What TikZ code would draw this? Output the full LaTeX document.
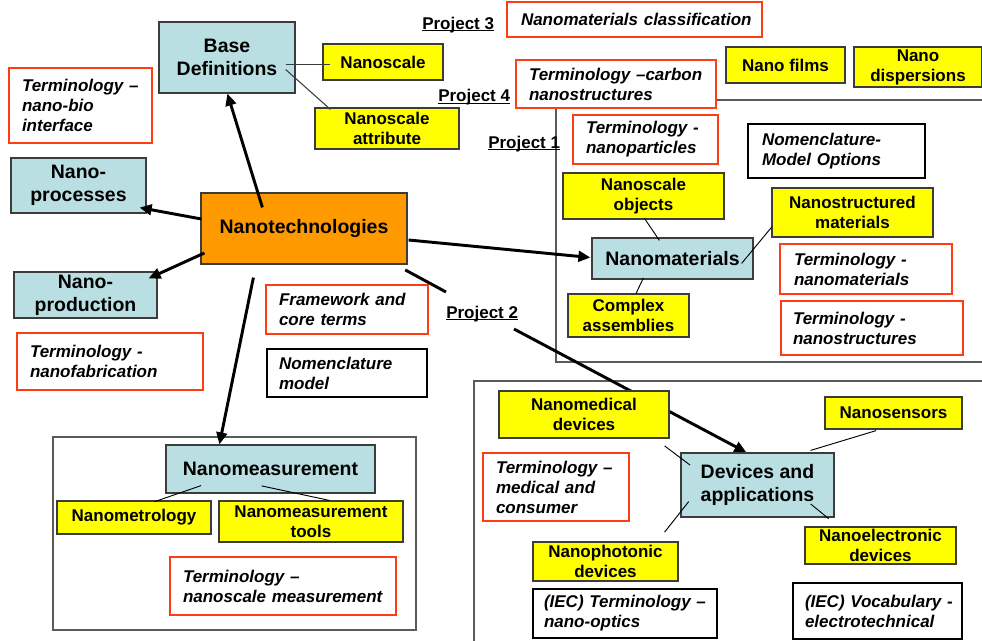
\documentclass[tikz,border=0pt]{standalone}
\usepackage{fontspec}
\setmainfont{Liberation Sans}
\usetikzlibrary{arrows.meta,calc}
\pgfdeclarelayer{bg}
\pgfsetlayers{bg,main}
\hyphenpenalty=10000
\exhyphenpenalty=10000
\hbadness=10000
\hfuzz=100pt
\definecolor{lblue}{RGB}{186,223,227}
\definecolor{ylw}{RGB}{255,255,0}
\definecolor{orng}{RGB}{255,153,0}
\definecolor{redb}{RGB}{255,60,20}
\definecolor{bord}{RGB}{60,60,60}
\definecolor{contc}{RGB}{90,90,90}
\newcommand\bx[7]{%
  \pgfmathsetlengthmacro\bxw{(#5-#3)*0.75pt}%
  \pgfmathsetlengthmacro\bxh{(#6-#4)*0.75pt}%
  \node[#1, minimum width=\bxw, minimum height=\bxh] (#2) at ({(#3+#5)/2},{(#4+#6)/2}) {#7};}
\newcommand\lbx[8]{%
  \pgfmathsetlengthmacro\bxw{(#5-#3)*0.75pt}%
  \pgfmathsetlengthmacro\bxh{(#6-#4)*0.75pt}%
  \pgfmathsetlengthmacro\bxt{(#5-#3-2*#8)*0.75pt}%
  \node[#1, text width=\bxt, minimum width=\bxw, minimum height=\bxh] (#2) at ({(#3+#5)/2},{(#4+#6)/2}) {#7};}
\newcommand\ulab[1]{\setbox0\hbox{#1}\rlap{\rule[-1.8pt]{\wd0}{1pt}}\box0}
\tikzset{
  basebox/.style={draw=bord, line width=0.9pt, inner sep=0pt, align=center,
    font=\fontsize{12.75}{15}\selectfont\bfseries},
  ybox/.style={basebox, fill=ylw},
  bbox/.style={basebox, fill=lblue, font=\fontsize{14.6}{17.5}\selectfont\bfseries},
  obox/.style={bbox, fill=orng},
  rbox/.style={draw=redb, line width=1.6pt, fill=white, inner sep=0pt, align=left,
    font=\fontsize{12.75}{15}\selectfont\bfseries\itshape},
  kbox/.style={rbox, draw=black, line width=0.8pt},
  kkbox/.style={rbox, draw=black, line width=1.8pt},
  proj/.style={inner sep=0pt, font=\fontsize{12.75}{15}\selectfont\bfseries},
  arr/.style={line width=2.2pt, -{Triangle[length=9pt,width=8pt]}},
  thk/.style={line width=2.2pt},
  conn/.style={line width=0.7pt, draw=black},
  conng/.style={line width=0.8pt, draw=bord},
  contbox/.style={draw=contc, line width=1.1pt}
}
\begin{document}
\begin{tikzpicture}[x=0.75pt, y=-0.75pt]
\useasboundingbox (0,0) rectangle (982,640);

% containers
\begin{pgfonlayer}{bg}
\draw[contbox] (556,100) rectangle (995,362);
\draw[contbox] (474,381) rectangle (995,655);
\draw[contbox] (53,437) rectangle (416,630);
\end{pgfonlayer}

% nodes
\bx{bbox}{basedef}{159}{22}{295}{93}{Base\\Definitions}
\lbx{rbox}{nanobio}{9}{68}{152}{143}{Terminology~–\\nano-bio\\interface}{13}
\bx{bbox}{procs}{11}{158}{146}{213}{Nano-\\processes}
\bx{obox}{nanotech}{201}{193}{407}{264}{Nanotechnologies}
\bx{bbox}{prod}{14}{272}{157}{318}{Nano-\\production}
\lbx{rbox}{nanofab}{17}{333}{203}{390}{Terminology~-\\nanofabrication}{13}
\lbx{rbox}{framework}{266}{285}{428}{334}{Framework~and\\core~terms}{13}
\lbx{kbox}{nommodel}{267}{349}{427}{397}{Nomenclature\\model}{12}
\lbx{rbox}{nmclass}{507}{2}{762}{37}{\mbox{Nanomaterials classification}}{14}
\lbx{rbox}{carbon}{516}{60}{716}{108}{\mbox{Terminology –carbon}\\nanostructures}{13}
\lbx{rbox}{nanopart}{573}{115}{718}{164}{Terminology~-\\nanoparticles}{13}
\bx{ybox}{nscale}{323}{44}{443}{80}{Nanoscale}
\bx{ybox}{attr}{315}{108}{459}{149}{Nanoscale\\attribute}
\bx{ybox}{films}{726}{47}{845}{83}{Nano films}
\bx{ybox}{disp}{854}{47}{982}{87}{Nano\\dispersions}
\lbx{kkbox}{nomopt}{748}{124}{925}{178}{Nomenclature-\\Model~Options}{14}
\bx{ybox}{nobj}{563}{173}{724}{219}{Nanoscale\\objects}
\bx{ybox}{nstruct}{772}{188}{933}{237}{Nanostructured\\materials}
\bx{bbox}{nanomat}{592}{238}{753}{279}{Nanomaterials}
\bx{ybox}{complex}{568}{294}{689}{337}{Complex\\assemblies}
\lbx{rbox}{termnm}{780}{244}{952}{294}{Terminology~-\\nanomaterials}{14}
\lbx{rbox}{termns}{781}{301}{963}{355}{Terminology~-\\nanostructures}{12}
\bx{bbox}{nmeas}{166}{445}{375}{493}{Nanomeasurement}
\bx{ybox}{nmet}{57}{501}{211}{534}{Nanometrology}
\bx{ybox}{tools}{219}{501}{403}{542}{Nanomeasurement\\tools}
\lbx{rbox}{termmeas}{170}{557}{396}{615}{Terminology~–\\\mbox{nanoscale measurement}}{13}
\bx{ybox}{nmed}{499}{391}{669}{438}{Nanomedical\\devices}
\bx{ybox}{nsens}{825}{397}{962}{429}{Nanosensors}
\bx{bbox}{devices}{681}{453}{834}{517}{Devices and\\applications}
\lbx{rbox}{termmed}{483}{453}{629}{521}{Terminology~–\\medical~and\\consumer}{13}
\bx{ybox}{nphot}{533}{542}{678}{581}{Nanophotonic\\devices}
\bx{ybox}{nelec}{805}{527}{956}{564}{Nanoelectronic\\devices}
\lbx{kbox}{ieco}{533}{589}{717}{638}{\mbox{(IEC) Terminology –}\\nano-optics}{11}
\lbx{kbox}{iecv}{793}{583}{962}{639}{\mbox{(IEC) Vocabulary -}\\electrotechnical}{12}

% project labels
\node[proj, anchor=base west] (p3) at (422,29) {\ulab{Project 3}};
\node[proj, anchor=base west] (p4) at (438,101.5) {\ulab{Project 4}};
\node[proj, anchor=base west] (p1) at (488,148) {\ulab{Project 1}};
\node[proj, anchor=base west] (p2) at (446,318) {\ulab{Project 2}};
\coordinate (p2a) at (446,292);
\coordinate (p2b) at (514,329);

% connectors
\draw[conng] ($(basedef.east)+(-10,7)$) -- ($(nscale.west)+(8,2.5)$);
\draw[conng] ($(basedef.east)+(-10,12)$) -- ($(attr.north west)+(16,2)$);

\draw[arr] ($(nanotech.north west)+(62,15)$) -- ($(basedef.south west)+(69,0)$);
\draw[arr] ($(nanotech.west)+(1,-9.5)$) -- ($(procs.south east)+(-7,-6)$);
\draw[arr] ($(nanotech.west)+(4,24.5)$) -- ($(prod.north east)+(-9,7)$);
\draw[arr] ($(nanotech.south west)+(53,13)$) -- ($(nmeas.north west)+(54,0)$);
\draw[arr] ($(nanotech.east)+(1,11.5)$) -- ($(nanomat.west)+(-1,-1)$);
\draw[thk] ($(nanotech.south east)+(-2.4,5.3)$) -- (p2a);
\begin{pgfonlayer}{bg}
\draw[arr] (p2b) -- ($(devices.north west)+(66,0)$);
\end{pgfonlayer}

\draw[conn] ($(nobj.south west)+(82,-1.3)$) -- ($(nanomat.north west)+(68,3)$);
\draw[conn] ($(nanomat.north east)+(-12,26)$) -- ($(nstruct.south west)+(0.7,-11)$);
\draw[conn] ($(nanomat.south west)+(52,-1.7)$) -- ($(complex.north west)+(68.7,0)$);
\draw[conn] ($(nmeas.south west)+(35.7,-8)$) -- ($(nmet.north west)+(98,1.3)$);
\draw[conn] ($(nmeas.south west)+(96.3,-7.7)$) -- ($(tools.north west)+(111,0)$);
\draw[conn] ($(nmed.south east)+(-5,7.3)$) -- ($(devices.north west)+(9.7,12.7)$);
\draw[conn] ($(nsens.south west)+(51.7,1)$) -- ($(devices.north east)+(-24,-2)$);
\draw[conn] ($(nphot.north east)+(-14,-9.3)$) -- ($(devices.south west)+(8.3,-16)$);
\draw[conn] ($(devices.south east)+(-24,-13.7)$) -- ($(nelec.north west)+(24.3,-7.7)$);
\end{tikzpicture}
\end{document}
